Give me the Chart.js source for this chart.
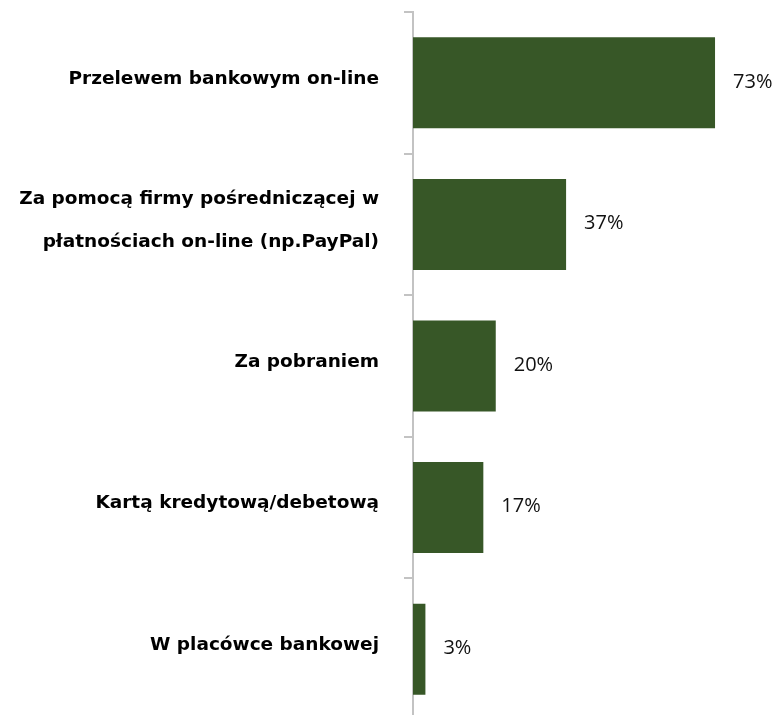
<!DOCTYPE html>
<html>
<head>
<meta charset="utf-8">
<script src="https://cdn.jsdelivr.net/npm/chart.js@4/dist/chart.umd.min.js"></script>
<style>
  html, body { margin: 0; padding: 0; background: #fff; overflow: hidden; }
  #box { position: absolute; left: 0; top: 0; width: 776px; height: 720px; }
</style>
</head>
<body>
<div id="box"><canvas id="wykres"></canvas></div>
<script>
// sposoby platnosci - odsetek odpowiedzi
var kategorie = [
  "Przelewem bankowym on-line",
  ["Za pomocą firmy pośredniczącej w", "płatnościach on-line (np.PayPal)"],
  "Za pobraniem",
  "Kartą kredytową/debetową",
  "W placówce bankowej"
];
var procenty = [73, 37, 20, 17, 3];

var kolorSlupka = "#375727";
var kolorOsi = "#c3c3c3";

// napisy z wartoscia przy koncu slupka
var etykietyWartosci = {
  id: "etykietyWartosci",
  afterDatasetsDraw: function(chart){
    var ctx = chart.ctx;
    var meta = chart.getDatasetMeta(0);
    ctx.save();
    ctx.font = "20px 'Open Sans'";
    ctx.fillStyle = "#111";
    ctx.textAlign = "left";
    ctx.textBaseline = "middle";
    meta.data.forEach(function(bar, i){
      ctx.fillText(procenty[i] + "%", bar.x + 18, bar.y - 1);
    });
    ctx.restore();
  }
};

var ctx = document.getElementById("wykres").getContext("2d");
var chart = new Chart(ctx, {
  type: "bar",
  data: {
    labels: kategorie,
    datasets: [{
      data: procenty,
      backgroundColor: kolorSlupka,
      borderWidth: 0,
      categoryPercentage: 1,
      barPercentage: 0.643
    }]
  },
  options: {
    indexAxis: "y",
    responsive: true,
    maintainAspectRatio: false,
    animation: false,
    layout: { padding: { top: 12, right: 32, bottom: 0, left: 0 } },
    plugins: {
      legend: { display: false },
      tooltip: { enabled: false }
    },
    scales: {
      x: {
        display: false,
        min: 0,
        max: 80
      },
      y: {
        afterFit: function(scale){
          scale.width = 413;
          scale.paddingTop = 0;
          scale.paddingBottom = 0;
        },
        border: { display: true, color: kolorOsi, width: 2 },
        grid: {
          display: true,
          drawOnChartArea: false,
          drawTicks: true,
          tickLength: 9,
          color: kolorOsi,
          lineWidth: 2,
          offset: true
        },
        ticks: {
          color: "#000",
          padding: 25,
          labelOffset: -4,
          font: { family: "'DejaVu Sans'", weight: "bold", size: 18.5, lineHeight: 2.32 }
        }
      }
    }
  },
  plugins: [etykietyWartosci]
});
</script>
</body>
</html>
